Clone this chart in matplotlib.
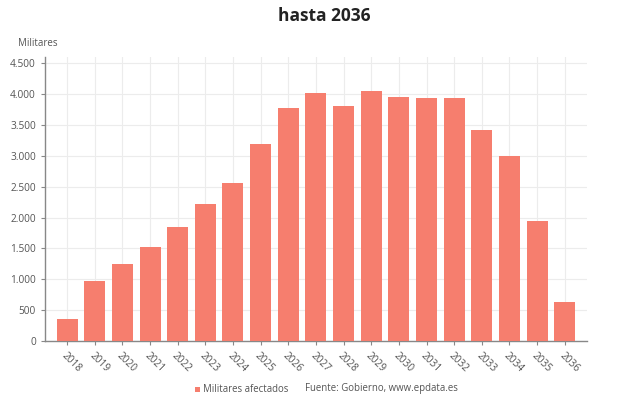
import matplotlib
matplotlib.use("Agg")
import matplotlib.pyplot as plt
from matplotlib.ticker import FuncFormatter
from matplotlib.patches import Rectangle

plt.rcParams['font.family'] = ['Open Sans', 'DejaVu Sans']

years = [str(y) for y in range(2018, 2037)]
militares = [360, 965, 1240, 1530, 1840, 2215, 2555, 3185, 3770, 4020,
             3800, 4055, 3950, 3940, 3935, 3420, 2995, 1945, 625]

bar_color = "#f67e6e"
grid_color = "#ececec"
text_color = "#555555"

fig = plt.figure(figsize=(6.4, 4.0), dpi=100)
ax = fig.add_axes([0.0703, 0.1475, 0.8467, 0.71])

x = list(range(len(years)))
ax.bar(x, militares, width=0.76, color=bar_color, zorder=3)

ax.set_xlim(-0.8, len(years) - 0.2)
ax.set_ylim(0, 4600)
ax.set_yticks(range(0, 4501, 500))
ax.yaxis.set_major_formatter(FuncFormatter(lambda v, p: f"{int(v):,}".replace(",", ".")))
ax.set_xticks(x)
ax.set_xticklabels(years, rotation=-45, ha="left", rotation_mode="anchor")

ax.grid(True, color=grid_color, linewidth=0.8, zorder=0)
for s in ["top", "right"]:
    ax.spines[s].set_visible(False)
for s in ["left", "bottom"]:
    ax.spines[s].set_color("#888888")
    ax.spines[s].set_linewidth(1.0)
ax.tick_params(axis="both", colors="#888888", labelcolor=text_color, labelsize=7.3, length=3)

fig.text(0.506, 0.96, "hasta 2036", ha="center", va="center", fontsize=12.5,
         fontweight="bold", color="#222222")
fig.text(0.028, 0.89, "Militares", ha="left", va="center", fontsize=7, color=text_color)

fig.patches.append(Rectangle((0.305, 0.021), 0.0075, 0.0125, transform=fig.transFigure,
                             facecolor=bar_color, edgecolor="none"))
fig.text(0.317, 0.0275, "Militares afectados", ha="left", va="center", fontsize=6.9, color=text_color)
fig.text(0.477, 0.0275, "Fuente: Gobierno, www.epdata.es", ha="left", va="center",
         fontsize=6.9, color=text_color)

fig.savefig("out.png", dpi=100)
